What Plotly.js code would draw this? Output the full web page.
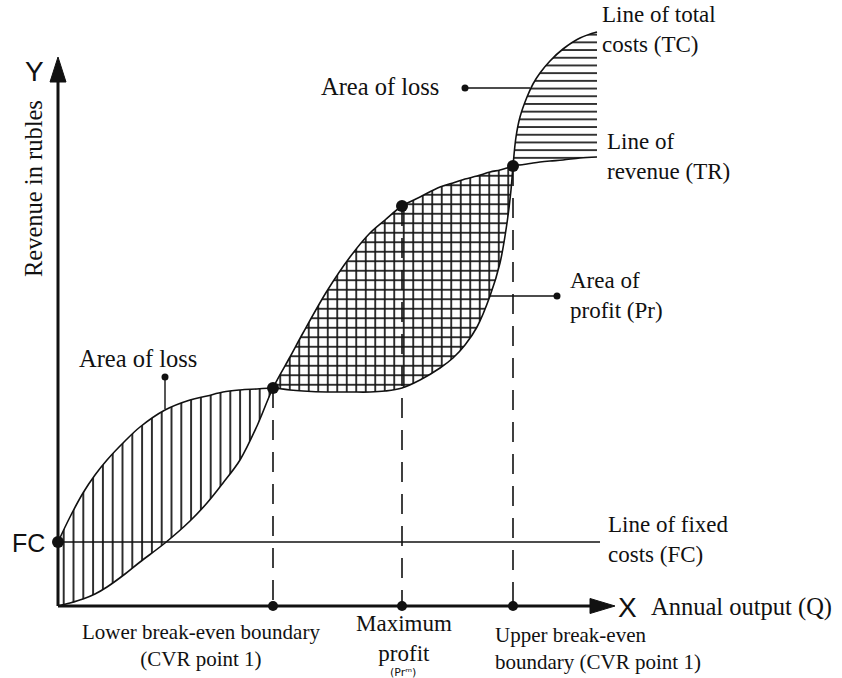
<!DOCTYPE html>
<html>
<head>
<meta charset="utf-8">
<script src="https://cdn.plot.ly/plotly-3.0.1.min.js"></script>
<style>html,body{margin:0;padding:0;background:#fff;}#chart{width:842px;height:678px;}</style>
</head>
<body>
<div id="chart"></div>
<script>
// ---- Data (annual output Q, costs and revenue in arbitrary units) ----
const Q  = [0, 1.2, 2.5, 3.7, 4.9, 6.7, 8.2, 10.7, 13.2, 14.9, 16.5, 18.2, 19.9, 21.5, 23.2, 24.5, 26.9, 29.2, 31.2, 32.7, 34.4, 36.2, 38.2, 39.5, 40.7, 41.9, 43.2, 44.2, 44.9, 45.3, 45.5, 45.8, 46.2, 46.9, 47.5, 48.2, 49.2, 50.5, 52.2, 53.9];
const TC = [6.4, 8.9, 11.3, 13.1, 14.6, 16.5, 17.9, 19.6, 20.6, 21.0, 21.4, 21.6, 21.7, 21.8, 21.6, 21.5, 21.4, 21.4, 21.4, 21.5, 21.8, 22.6, 23.8, 24.8, 26.1, 27.9, 31.0, 34.3, 38.3, 41.6, 44.0, 46.9, 48.9, 50.9, 52.2, 53.3, 54.5, 55.7, 56.8, 57.4];
const TR = [0, 0.3, 0.7, 1.2, 1.9, 3.2, 4.4, 6.3, 8.5, 10.3, 12.3, 14.6, 18.0, 21.8, 24.9, 27.3, 31.5, 34.9, 37.3, 38.6, 40.0, 40.9, 41.9, 42.3, 42.7, 43.0, 43.4, 43.6, 43.8, 43.9, 44.0, 44.1, 44.1, 44.2, 44.3, 44.4, 44.5, 44.6, 44.8, 44.9];
const FC_VALUE = 6.4;
const FC_LINE_END = 54.2;
const LOWER_BE_Q = 21.5;
const MAX_PROFIT_Q = 34.4;
const UPPER_BE_Q = 45.5;
const AXIS_X_END = 53.2, AXIS_Y_END = 52.6;

// ---- Helpers ----
const i1 = Q.indexOf(LOWER_BE_Q);
const iM = Q.indexOf(MAX_PROFIT_Q);
const i2 = Q.indexOf(UPPER_BE_Q);
const iN = Q.length - 1;
const INK = '#111';
const SERIF = 'Liberation Serif, Times New Roman, serif';
const SANS = 'Liberation Sans, Arial, sans-serif';

function fillPair(a, b, shape, size, solidity) {
  const xs = Q.slice(a, b + 1);
  return [
    {x: xs, y: TR.slice(a, b + 1), mode: 'lines', line: {width: 0, shape: 'spline', color: 'rgba(0,0,0,0)'}, hoverinfo: 'skip'},
    {x: xs, y: TC.slice(a, b + 1), mode: 'lines', line: {width: 0, shape: 'spline', color: 'rgba(0,0,0,0)'},
     fill: 'tonexty', fillcolor: 'rgba(255,255,255,0)',
     fillpattern: {shape: shape, size: size, solidity: solidity, fgcolor: '#151515', bgcolor: 'rgba(255,255,255,0)'},
     hoverinfo: 'skip'}
  ];
}

const traces = [];
traces.push(...fillPair(0, i1, '|', 9.8, 0.18));
traces.push(...fillPair(i1, i2, '|', 9.5, 0.18));
traces.push(...fillPair(i1, i2, '-', 9.5, 0.18));
traces.push(...fillPair(i2, iN, '-', 7.7, 0.22));

// Fixed costs line
traces.push({x: [0, FC_LINE_END], y: [FC_VALUE, FC_VALUE], mode: 'lines', line: {color: INK, width: 1.5}, hoverinfo: 'skip'});

// Dashed drop lines
[i1, iM, i2].forEach(i => {
  traces.push({x: [Q[i], Q[i]], y: [TR[i], 0], mode: 'lines', line: {color: INK, width: 1.6, dash: '20px,12px'}, hoverinfo: 'skip'});
});

// Curves
traces.push({x: Q, y: TC, mode: 'lines', line: {color: INK, width: 1.6, shape: 'spline'}, hoverinfo: 'skip'});
traces.push({x: Q, y: TR, mode: 'lines', line: {color: INK, width: 1.6, shape: 'spline'}, hoverinfo: 'skip'});

// Pointer lines
traces.push({x: [40.7, 47.2], y: [51.8, 51.8], mode: 'lines', line: {color: INK, width: 1.4}, hoverinfo: 'skip'});
traces.push({x: [10.7, 10.7], y: [22.9, 19.7], mode: 'lines', line: {color: INK, width: 1.4}, hoverinfo: 'skip'});
traces.push({x: [43.2, 49.9], y: [31.0, 31.0], mode: 'lines', line: {color: INK, width: 1.4}, hoverinfo: 'skip'});
traces.push({x: [40.7, 10.7, 49.9], y: [51.8, 22.9, 31.0], mode: 'markers', marker: {color: INK, size: 7}, hoverinfo: 'skip'});

// Key points
traces.push({x: [0, Q[i1], Q[iM], Q[i2]], y: [FC_VALUE, TR[i1], TR[iM], TR[i2]], mode: 'markers', marker: {color: INK, size: 12}, hoverinfo: 'skip'});
traces.push({x: [Q[i1], Q[iM], Q[i2]], y: [0, 0, 0], mode: 'markers', marker: {color: INK, size: 10}, hoverinfo: 'skip'});

// pixel -> paper helpers for text placement
const W = 842, H = 678;
const px = v => v / W, py = v => 1 - v / H;
function txt(text, x, y, opts) {
  return Object.assign({text: text, xref: 'paper', yref: 'paper', x: px(x), y: py(y), showarrow: false,
    xanchor: 'left', yanchor: 'middle', align: 'left', borderpad: 0, font: {family: SERIF, size: 23, color: INK}}, opts || {});
}
const BIG = {family: SERIF, size: 24.5, color: INK};
const BOT = {family: SERIF, size: 21, color: INK};

const annotations = [
  txt('Line of total<br>costs (TC)', 601, 30),
  txt('Line of<br>revenue (TR)', 606, 156),
  txt('Area of<br>profit (Pr)', 569, 295),
  txt('Line of fixed<br>costs (FC)', 607, 539),
  txt('Area of loss', 320, 87, {font: BIG}),
  txt('Area of loss', 78, 358, {font: BIG}),
  txt('Annual output (Q)', 650, 607, {font: BIG}),
  txt('X', 627, 607, {xanchor: 'center', font: {family: SANS, size: 28, color: INK}}),
  txt('Y', 34, 72, {xanchor: 'center', font: {family: SANS, size: 28, color: INK}}),
  txt('FC', 28, 543, {xanchor: 'center', font: {family: SANS, size: 25, color: INK}}),
  txt('Revenue in rubles', 33, 189, {xanchor: 'center', textangle: -90, font: {family: SERIF, size: 24.5, color: INK}}),
  txt('Lower break-even boundary<br>(CVR point 1)', 201, 645, {xanchor: 'center', align: 'center', font: BOT}),
  txt('Maximum<br>profit', 404, 638, {xanchor: 'center', align: 'center', font: {family: SERIF, size: 23, color: INK}}),
  txt('(Pr\u1D50)', 403, 672, {xanchor: 'center', font: {family: 'DejaVu Sans, sans-serif', size: 11, color: INK}}),
  txt('Upper break-even<br>boundary (CVR point 1)', 494, 648, {font: BOT})
];

const shapes = [
  {type: 'line', xref: 'x', yref: 'y', x0: 0, y0: 0, x1: 0, y1: AXIS_Y_END, line: {color: INK, width: 3}},
  {type: 'line', xref: 'x', yref: 'y', x0: 0, y0: 0, x1: AXIS_X_END, y1: 0, line: {color: INK, width: 3}},
  {type: 'path', xref: 'x', yref: 'y', path: 'M 0 54.9 L -0.8 52.4 L 0.8 52.4 Z', fillcolor: INK, line: {color: INK, width: 1}},
  {type: 'path', xref: 'x', yref: 'y', path: 'M 55.7 0 L 53.2 0.75 L 53.2 -0.75 Z', fillcolor: INK, line: {color: INK, width: 1}}
];

const layout = {
  width: W, height: H,
  margin: {l: 0, r: 0, t: 0, b: 0},
  paper_bgcolor: '#fff', plot_bgcolor: '#fff',
  showlegend: false,
  xaxis: {range: [-5.8, 78.4], visible: false, fixedrange: true},
  yaxis: {range: [-7.2, 60.6], visible: false, fixedrange: true},
  annotations: annotations,
  shapes: shapes
};

Plotly.newPlot('chart', traces, layout, {staticPlot: true, displayModeBar: false});
</script>
</body>
</html>
